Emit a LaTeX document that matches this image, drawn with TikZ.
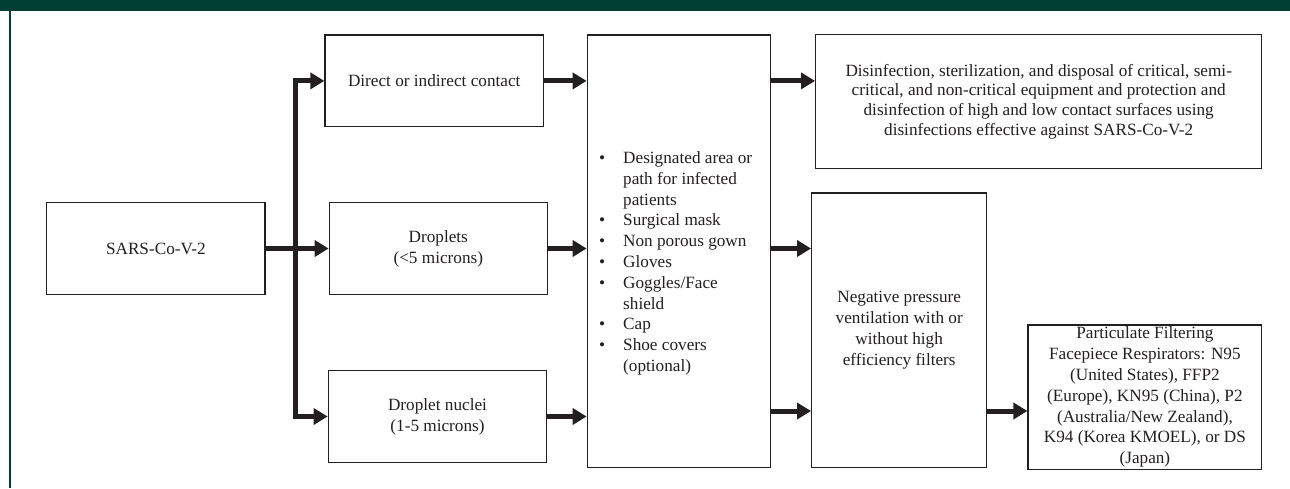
\documentclass[tikz,border=0pt]{standalone}
\usepackage{fontspec}
\setmainfont{Liberation Serif}
\usetikzlibrary{arrows.meta}
\definecolor{framegreen}{RGB}{0,62,52}
\definecolor{ink}{RGB}{35,31,32}
\newcommand{\fsz}{\fontsize{17.2}{20.8}\selectfont}
\newcommand{\fszb}{\fontsize{17.2}{19.7}\selectfont}
\begin{document}
\begin{tikzpicture}[x=1pt,y=-1pt,
  box/.style={draw=ink, line width=1.3pt, inner sep=0pt, align=center, font=\fsz, text=ink},
  txt/.style={inner sep=0pt, align=left, font=\fsz, text=ink},
  arr/.style={draw=ink, line width=5pt, -{Triangle[length=14pt,width=16pt]}}
]
\useasboundingbox (0,0) rectangle (1290,488);
\fill[white] (0,0) rectangle (1290,488);
% frame
\fill[framegreen] (0,0) rectangle (1290,10.7);
\fill[framegreen] (9.3,0) rectangle (11.3,488);

% boxes
\node[box, minimum width=218.3pt, minimum height=91.6pt] (sars) at (155.9,248.5) {SARS-Co-V-2};
\node[box, minimum width=218.3pt, minimum height=91.7pt] (direct) at (434.2,80.9) {Direct or indirect contact};
\node[box, minimum width=218pt, minimum height=91.6pt] (droplets) at (438.3,248.5) {Droplets\\(<5 microns)};
\node[box, minimum width=218.4pt, minimum height=91.6pt] (nuclei) at (437.5,416.5) {Droplet nuclei\\(1-5 microns)};
\node[box, minimum width=183.4pt, minimum height=432.3pt] (mid) at (679,251.2) {};
\node[txt, anchor=west] (midtext) at (599,263.4) {\begin{tabular}{@{}l@{\hspace{18pt}}l@{}}
\textbullet & Designated area or\\
 & path for infected\\
 & patients\\
\textbullet & Surgical mask\\
\textbullet & Non porous gown\\
\textbullet & Gloves\\
\textbullet & Goggles/Face\\
 & shield\\
\textbullet & Cap\\
\textbullet & Shoe covers\\
 & (optional)
\end{tabular}};
\node[box, font=\fszb, minimum width=446pt, minimum height=133.7pt] (disinf) at (1038.7,101.6) {Disinfection, sterilization, and disposal of critical, semi-\\critical, and non-critical equipment and protection and\\disinfection of high and low contact surfaces using\\disinfections effective against SARS-Co-V-2};
\node[box, minimum width=175pt, minimum height=274.3pt] (neg) at (899.2,330.2) {Negative pressure\\ventilation with or\\without high\\efficiency filters};
\node[box, minimum width=233.7pt, minimum height=144.3pt] (part) at (1144.9,397.2) {Particulate Filtering\\Facepiece Respirators: N95\\(United States), FFP2\\(Europe), KN95 (China), P2\\(Australia/New Zealand),\\K94 (Korea KMOEL), or DS\\(Japan)};

% connectors
\coordinate (trunk) at (295,248.5);
\coordinate (low) at (0,411);
\draw[arr] (sars.east) -- (droplets.west);
\draw[arr] (trunk) |- (direct.west);
\draw[arr] (trunk) |- (nuclei.west);
\draw[arr] (direct.east) -- (direct.east -| mid.west);
\draw[arr] (droplets.east) -- (droplets.east -| mid.west);
\draw[arr] (nuclei.east) -- (nuclei.east -| mid.west);
\draw[arr] (mid.east |- direct.east) -- (disinf.west |- direct.east);
\draw[arr] (mid.east |- droplets.east) -- (neg.west |- droplets.east);
\draw[arr] (mid.east |- low) -- (neg.west |- low);
\draw[arr] (neg.east |- low) -- (part.west |- low);
\end{tikzpicture}
\end{document}
